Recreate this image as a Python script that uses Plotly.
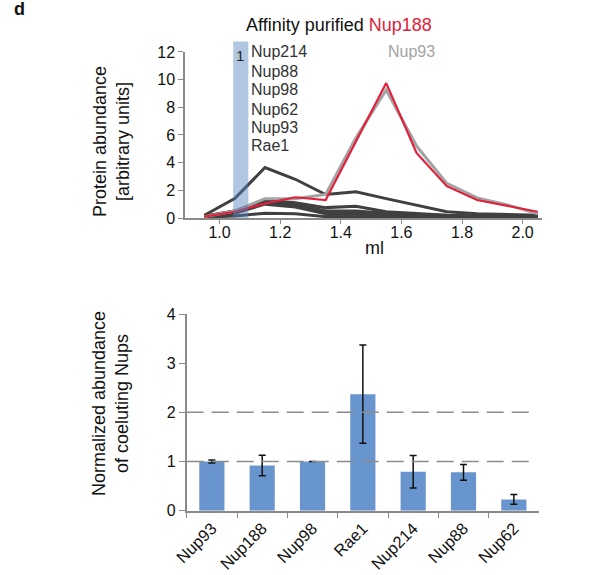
import plotly.graph_objects as go

W, H = 608, 575

# ---- top panel data (elution profiles) ----
ml = [0.95, 1.05, 1.15, 1.25, 1.35, 1.45, 1.55, 1.65, 1.75, 1.85, 1.95, 2.05]
nup188 = [0.1, 0.45, 1.05, 1.5, 1.3, 5.5, 9.75, 4.7, 2.3, 1.3, 0.9, 0.45]
nup93 = [0.1, 0.5, 1.4, 1.4, 1.7, 5.8, 9.25, 5.2, 2.5, 1.45, 0.95, 0.3]
nup214 = [0.2, 1.4, 3.65, 2.8, 1.7, 1.9, 1.4, 0.95, 0.45, 0.3, 0.25, 0.2]
nup88 = [0.15, 0.5, 1.3, 1.1, 0.75, 0.85, 0.45, 0.3, 0.2, 0.15, 0.15, 0.1]
nup98 = [0.1, 0.5, 1.2, 1.0, 0.5, 0.5, 0.35, 0.25, 0.15, 0.1, 0.1, 0.1]
nup62 = [0.1, 0.45, 1.1, 0.9, 0.4, 0.35, 0.25, 0.2, 0.1, 0.1, 0.1, 0.05]
nup93b = [0.05, 0.35, 1.0, 0.8, 0.3, 0.25, 0.2, 0.15, 0.1, 0.05, 0.05, 0.05]
rae1 = [0.05, 0.15, 0.35, 0.3, 0.1, 0.1, 0.1, 0.05, 0.05, 0.05, 0.05, 0.05]
dark_series = [nup214, nup88, nup98, nup62, nup93b, rae1]
legend_names = ["Nup214", "Nup88", "Nup98", "Nup62", "Nup93", "Rae1"]
x_ticks = [1.0, 1.2, 1.4, 1.6, 1.8, 2.0]
x_ticktext = ["1.0", "1.2", "1.4", "1.6", "1.8", "2.0"]

# ---- bottom panel data ----
bar_cats = ["Nup93", "Nup188", "Nup98", "Rae1", "Nup214", "Nup88", "Nup62"]
bar_vals = [1.0, 0.92, 1.0, 2.37, 0.79, 0.78, 0.23]
bar_errs = [0.03, 0.21, 0.0, 1.0, 0.33, 0.16, 0.10]
ref_levels = [1, 2]

FONT = "Liberation Sans, Arial, sans-serif"
AX = "#8a8a8a"
DARK = "#404040"
RED = "#e3203a"
GREY = "#a3a3a3"

def px(x):
    return x / W

def py(y):
    return 1 - y / H

fig = go.Figure()

for s in dark_series:
    fig.add_trace(go.Scatter(x=ml, y=s, mode="lines", line=dict(color=DARK, width=3),
                             xaxis="x", yaxis="y", showlegend=False, hoverinfo="skip"))
fig.add_trace(go.Scatter(x=ml, y=nup93, mode="lines", line=dict(color=GREY, width=3),
                         xaxis="x", yaxis="y", showlegend=False))
fig.add_trace(go.Scatter(x=ml, y=nup188, mode="lines", line=dict(color=RED, width=2.2),
                         xaxis="x", yaxis="y", showlegend=False))

fig.add_trace(go.Bar(x=bar_cats, y=bar_vals, width=0.5, marker=dict(color="#6895cd", line=dict(width=0)),
                     error_y=dict(type="data", array=bar_errs, color="#111111", thickness=1.5, width=3.5),
                     xaxis="x2", yaxis="y2", showlegend=False))

shapes = [
    dict(type="rect", xref="x", yref="paper", x0=1.045, x1=1.095, y0=py(218), y1=py(41.5),
         fillcolor="#4f81bd", opacity=0.45, line=dict(width=0), layer="above"),
]
for yv in ref_levels:
    shapes.append(dict(type="line", xref="x2 domain", yref="y2", x0=0, x1=0.99, y0=yv, y1=yv,
                       line=dict(color="#8c8c8c", width=1.5, dash="17px,8px"), layer="above"))

def note(text, x, y, size=16, color="#111111", xanchor="center", angle=0):
    return dict(text=text, x=px(x), y=py(y), xref="paper", yref="paper", showarrow=False,
                xanchor=xanchor, yanchor="middle", textangle=angle,
                font=dict(size=size, color=color))

ann = []
ann.append(note("Affinity purified <span style='color:%s'>Nup188</span>" % RED, 339, 25, size=18))
ann.append(note("Nup93", 411, 52, color=GREY))
ann.append(note("1", 240, 55, size=15, color="#222222"))
ys = [52, 71, 90, 109, 128, 146]
for name, yy in zip(legend_names, ys):
    ann.append(note(name, 249, yy, color="#333333", xanchor="left"))
ann.append(note("ml", 374, 248, size=18))
ann.append(note("Protein abundance<br>[arbitrary units]", 112, 142, size=18, angle=-90))
ann.append(note("Normalized abundance<br>of coeluting Nups", 110, 404, size=18, angle=-90))
ann.append(note("<b>d</b>", 19, 9, size=18))

fig.update_layout(
    width=W, height=H, margin=dict(l=0, r=0, t=0, b=0),
    paper_bgcolor="white", plot_bgcolor="white",
    font=dict(family=FONT, size=16, color="#111111"),
    shapes=shapes, annotations=ann, bargap=0.5,
    xaxis=dict(domain=[px(185), px(541.7)], range=[0.886, 2.063], anchor="y",
               tickvals=x_ticks, ticktext=x_ticktext,
               showline=True, linecolor=AX, linewidth=1.5, ticks="outside", ticklen=4, tickcolor=AX,
               showgrid=False, zeroline=False, tickfont=dict(size=16), automargin=False,
               ticklabelstandoff=-5),
    yaxis=dict(domain=[py(218), py(51.7)], range=[0, 12.02], anchor="x", dtick=2,
               showline=True, linecolor=AX, linewidth=1.5, ticks="outside", ticklen=5, tickcolor=AX,
               showgrid=False, zeroline=False, tickfont=dict(size=16), automargin=False),
    xaxis2=dict(domain=[px(186.7), px(539)], anchor="y2", type="category",
                showline=True, linecolor=AX, linewidth=1.5, ticks="outside", ticklen=6, tickcolor=AX,
                tickson="boundaries", tickangle=-45, showgrid=False, zeroline=False,
                tickfont=dict(size=16.5), automargin=False),
    yaxis2=dict(domain=[py(510.7), py(314)], range=[0, 4.0], anchor="x2", dtick=1,
                showline=True, linecolor=AX, linewidth=1.5, ticks="outside", ticklen=6, tickcolor=AX,
                showgrid=False, zeroline=False, tickfont=dict(size=16), automargin=False),
)

fig.write_html("out.html")
